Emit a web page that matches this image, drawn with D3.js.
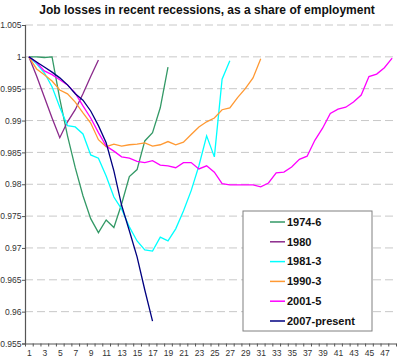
<!DOCTYPE html>
<html>
<head>
<meta charset="utf-8">
<script src="https://cdn.jsdelivr.net/npm/d3@7"></script>
<style>
  body { margin: 0; background: #fff; }
  text { font-family: "Liberation Sans", Arial, sans-serif; }
</style>
</head>
<body>
<div id="chart"></div>
<script>
// months since start of recession, employment relative to peak
var months = d3.range(1, 49);
var seriesNames = ["1974-6", "1980", "1981-3", "1990-3", "2001-5", "2007-present"];
var seriesColors = ["#339966", "#8B2A8B", "#00FFFF", "#FF9933", "#FF00FF", "#000080"];

var r1974 = [1, 1, 0.9999, 1, 0.9934, 0.9876, 0.9826, 0.9782, 0.9746, 0.9724, 0.9744, 0.9732,
    0.9769, 0.9812, 0.9823, 0.9868, 0.9881, 0.9920, 0.9984];
var r1980 = [1, 0.9970, 0.9937, 0.9904, 0.9873, 0.9898, 0.9917, 0.9942, 0.9969, 0.9995];
var r1981 = [1, 0.9989, 0.9975, 0.9953, 0.9921, 0.9892, 0.9890, 0.9879, 0.9846, 0.9841, 0.9813, 0.9780,
    0.9761, 0.9733, 0.9711, 0.9697, 0.9695, 0.9717, 0.9711, 0.9730, 0.9758, 0.9790, 0.9829, 0.9876,
    0.9843, 0.9965, 0.9994];
var r1990 = [1, 0.9981, 0.9972, 0.9962, 0.9948, 0.9942, 0.9929, 0.9912, 0.9896, 0.9870, 0.9859, 0.9863,
    0.9860, 0.9862, 0.9863, 0.9865, 0.9860, 0.9862, 0.9867, 0.9862, 0.9866, 0.9878, 0.9890, 0.9898,
    0.9904, 0.9917, 0.9920, 0.9936, 0.9950, 0.9967, 0.9997];
var r2001 = [1, 0.9991, 0.9978, 0.9972, 0.9964, 0.9956, 0.9943, 0.9923, 0.9904, 0.9881, 0.9860, 0.9852,
    0.9843, 0.9841, 0.9836, 0.9834, 0.9837, 0.9830, 0.9829, 0.9826, 0.9834, 0.9834, 0.9824, 0.9829,
    0.9819, 0.9801, 0.9799, 0.9799, 0.9799, 0.9799, 0.9796, 0.9802, 0.9818, 0.9819, 0.9827, 0.9839,
    0.9844, 0.9869, 0.9888, 0.9911, 0.9918, 0.9921, 0.9929, 0.9940, 0.9969, 0.9973, 0.9983, 0.9998];
var r2007 = [1, 0.9992, 0.9984, 0.9976, 0.9967, 0.9956, 0.9942, 0.9932, 0.9915, 0.9892, 0.9865, 0.9821,
    0.9767, 0.9727, 0.9686, 0.9634, 0.9585];

var yTicks = [0.955, 0.96, 0.965, 0.97, 0.975, 0.98, 0.985, 0.99, 0.995, 1, 1.005];
var xLabels = months.filter(function (m) { return m % 2 === 1; });

var allSeries = [r1974, r1980, r1981, r1990, r2001, r2007];

var width = 400, height = 362;
var margin = {top: 25, right: 4, bottom: 18.5, left: 25};

var svg = d3.select("#chart").append("svg")
    .attr("width", width)
    .attr("height", height);

var x = d3.scaleLinear()
    .domain([0.5, 48.5])
    .range([margin.left, width - margin.right]);

var y = d3.scaleLinear()
    .domain([0.955, 1.005])
    .range([height - margin.bottom, margin.top]);

// title
svg.append("text")
    .attr("x", 207)
    .attr("y", 14)
    .attr("text-anchor", "middle")
    .style("font-size", "12px")
    .style("font-weight", "bold")
    .style("fill", "#111")
    .text("Job losses in recent recessions, as a share of employment");

// dashed gridlines
svg.append("g")
    .selectAll("line")
    .data(yTicks.filter(function (t) { return t > 0.956; }))
    .enter()
    .append("line")
    .attr("x1", x(0.5))
    .attr("x2", x(48.5))
    .attr("y1", function (d) { return y(d); })
    .attr("y2", function (d) { return y(d); })
    .style("stroke", "#c8c8c8")
    .style("stroke-width", 1)
    .style("stroke-dasharray", "8,4");

// y axis
var yAxis = svg.append("g")
    .attr("transform", "translate(" + margin.left + ",0)")
    .call(d3.axisLeft(y)
        .tickValues(yTicks)
        .tickSize(3)
        .tickPadding(0.5)
        .tickFormat(function (d) { return String(+d.toFixed(3)); }));

// x axis: labels at odd months, ticks at category edges
var xAxis = svg.append("g")
    .attr("transform", "translate(0," + y(0.955) + ")")
    .call(d3.axisBottom(x)
        .tickValues(xLabels)
        .tickSize(0)
        .tickPadding(6)
        .tickFormat(d3.format("d")));

var xTicks = svg.append("g")
    .attr("transform", "translate(0," + y(0.955) + ")")
    .call(d3.axisBottom(x)
        .tickValues(d3.range(0.5, 49, 1))
        .tickSize(3)
        .tickFormat(""));

[yAxis, xAxis, xTicks].forEach(function (g) {
    g.select(".domain").style("stroke", "#555").style("stroke-width", 1.2);
    g.selectAll(".tick line").style("stroke", "#555");
    g.selectAll(".tick text")
        .style("font-family", "'Liberation Sans', Arial, sans-serif")
        .style("font-size", "8.5px")
        .style("fill", "#333");
});
xTicks.select(".domain").remove();

// series lines
var line = d3.line()
    .x(function (d, i) { return x(i + 1); })
    .y(function (d) { return y(d); });

svg.append("g")
    .selectAll("path")
    .data(allSeries)
    .enter()
    .append("path")
    .attr("d", line)
    .style("fill", "none")
    .style("stroke", function (d, i) { return seriesColors[i]; })
    .style("stroke-width", 1.3);

// legend
var legend = svg.append("g")
    .attr("transform", "translate(243,211)");

legend.append("rect")
    .attr("width", 129)
    .attr("height", 120)
    .style("fill", "#fff")
    .style("stroke", "#808080")
    .style("stroke-width", 1);

var items = legend.selectAll("g.item")
    .data(seriesNames)
    .enter()
    .append("g")
    .attr("class", "item")
    .attr("transform", function (d, i) { return "translate(0," + (11 + i * 19.8) + ")"; });

items.append("line")
    .attr("x1", 27)
    .attr("x2", 42)
    .style("stroke", function (d, i) { return seriesColors[i]; })
    .style("stroke-width", 1.5);

items.append("text")
    .attr("x", 44)
    .attr("dy", "0.35em")
    .style("font-size", "11px")
    .style("font-weight", "bold")
    .style("fill", "#111")
    .text(function (d) { return d; });
</script>
</body>
</html>
